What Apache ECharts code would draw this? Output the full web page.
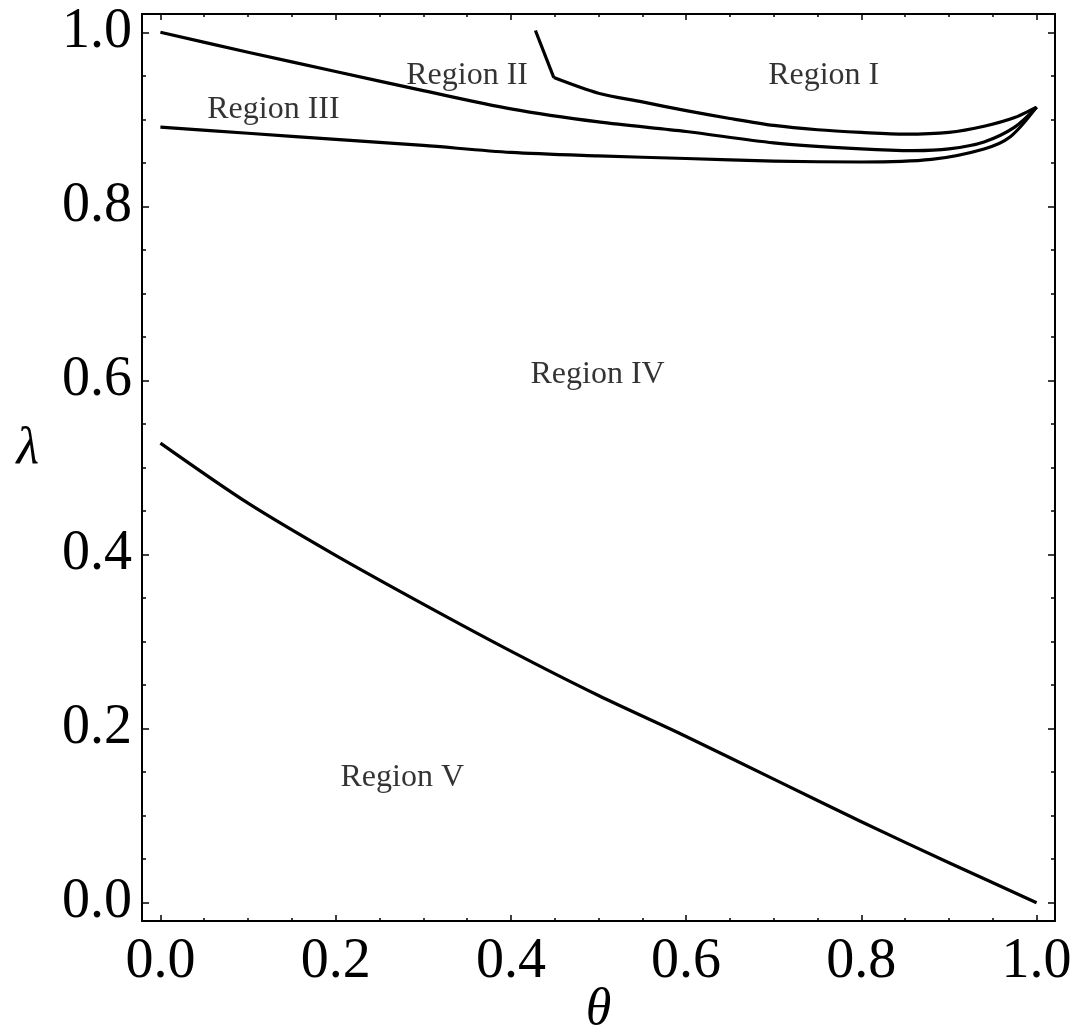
<!DOCTYPE html>
<html>
<head>
<meta charset="utf-8">
<script src="https://cdn.jsdelivr.net/npm/echarts@6/dist/echarts.min.js"></script>
<style>
  html, body { margin: 0; padding: 0; background: #fff; }
  #chart { width: 1076px; height: 1034px; }
</style>
</head>
<body>
<div id="chart"></div>
<script>
// tick positions (both axes share them)
const majorTicks = [0, 0.2, 0.4, 0.6, 0.8, 1.0];
const minorTicks = [0.05, 0.1, 0.15, 0.25, 0.3, 0.35, 0.45, 0.5, 0.55,
                    0.65, 0.7, 0.75, 0.85, 0.9, 0.95];

// boundary between region I and II (kink at the second point)
const curveI_theta  = [0.428, 0.449, 0.5, 0.55, 0.6, 0.65, 0.7, 0.75, 0.8, 0.85, 0.9, 0.94, 0.975, 1.0];
const curveI_lambda = [1.002, 0.948, 0.930, 0.920, 0.910, 0.901, 0.893, 0.888, 0.885, 0.883, 0.885, 0.892, 0.902, 0.914];

// boundary between region II and III
const curveII_theta  = [0, 0.1, 0.2, 0.3, 0.4, 0.5, 0.6, 0.7, 0.8, 0.86, 0.9, 0.94, 0.975, 1.0];
const curveII_lambda = [1.0, 0.977, 0.955, 0.933, 0.912, 0.897, 0.886, 0.873, 0.866, 0.864, 0.866, 0.874, 0.891, 0.914];

// boundary between region III and IV
const curveIII_theta  = [0, 0.1, 0.2, 0.3, 0.4, 0.5, 0.6, 0.7, 0.8, 0.88, 0.94, 0.97, 1.0];
const curveIII_lambda = [0.891, 0.884, 0.877, 0.870, 0.862, 0.858, 0.855, 0.852, 0.851, 0.854, 0.866, 0.880, 0.914];

// boundary between region IV and V
const curveIV_theta  = [0, 0.1, 0.2, 0.3, 0.4, 0.5, 0.6, 0.7, 0.8, 0.9, 1.0];
const curveIV_lambda = [0.528, 0.459, 0.399, 0.343, 0.289, 0.238, 0.191, 0.142, 0.093, 0.046, 0.0];

// region labels
const regionNames  = ['Region I', 'Region II', 'Region III', 'Region IV', 'Region V'];
const regionTheta  = [0.757, 0.350, 0.129, 0.499, 0.276];
const regionLambda = [0.950, 0.950, 0.911, 0.607, 0.144];

const FONT = '"Liberation Serif", "DejaVu Serif", serif';
const AX_MIN = -0.021, AX_MAX = 1.021;

function zip(xs, ys) {
  return xs.map(function (x, i) { return [x, ys[i]]; });
}

function makeAxis(gridIndex, position, ticks, tickLen, withLabel, extra) {
  return Object.assign({
    type: 'value',
    gridIndex: gridIndex,
    position: position,
    min: AX_MIN,
    max: AX_MAX,
    axisLine: { show: withLabel !== null, onZero: false, lineStyle: { color: '#000', width: 2 } },
    axisTick: { show: true, inside: true, length: tickLen, customValues: ticks,
                lineStyle: { color: '#000', width: 1.5 } },
    axisLabel: {
      show: !!withLabel,
      customValues: majorTicks,
      formatter: function (v) { return v.toFixed(1); },
      fontFamily: FONT,
      fontSize: 56,
      color: '#000',
      margin: withLabel ? withLabel.margin : 8
    },
    splitLine: { show: false }
  }, extra || {});
}

const gridBox = { left: 142, top: 14, width: 913, height: 907, outerBoundsMode: 'none', containLabel: false };

const chart = echarts.init(document.getElementById('chart'));

function lineSeries(points, smooth) {
  return {
    type: 'line',
    xAxisIndex: 0,
    yAxisIndex: 0,
    data: points,
    showSymbol: false,
    smooth: smooth,
    lineStyle: { color: '#000', width: 3.2, join: 'miter' },
    animation: false
  };
}

const curveI = zip(curveI_theta, curveI_lambda);

chart.setOption({
  backgroundColor: '#fff',
  animation: false,
  grid: [
    Object.assign({}, gridBox),
    Object.assign({}, gridBox)
  ],
  xAxis: [
    makeAxis(0, 'bottom', majorTicks, 6, { margin: 13 }, {
      name: 'θ',
      nameLocation: 'middle',
      nameGap: 63,
      nameMoveOverlap: false,
      nameTextStyle: { fontFamily: FONT, fontStyle: 'italic', fontSize: 52, color: '#000' }
    }),
    makeAxis(0, 'top', majorTicks, 6, false),
    makeAxis(1, 'bottom', minorTicks, 3, null),
    makeAxis(1, 'top', minorTicks, 3, null)
  ],
  yAxis: [
    makeAxis(0, 'left', majorTicks, 7, { margin: 10 }, {
      name: 'λ',
      nameLocation: 'middle',
      nameRotate: 0,
      nameGap: 103,
      nameMoveOverlap: false,
      nameTextStyle: { fontFamily: FONT, fontStyle: 'italic', fontSize: 52, color: '#000',
                       verticalAlign: 'bottom', lineHeight: 36 }
    }),
    makeAxis(0, 'right', majorTicks, 7, false),
    makeAxis(1, 'left', minorTicks, 4, null),
    makeAxis(1, 'right', minorTicks, 4, null)
  ],
  series: [
    lineSeries(curveI.slice(0, 2), false),
    lineSeries(curveI.slice(1), 0.3),
    lineSeries(zip(curveII_theta, curveII_lambda), 0.3),
    lineSeries(zip(curveIII_theta, curveIII_lambda), 0.3),
    lineSeries(zip(curveIV_theta, curveIV_lambda), 0.3),
    {
      type: 'scatter',
      xAxisIndex: 0,
      yAxisIndex: 0,
      symbolSize: 0,
      data: regionNames.map(function (n, i) {
        return { name: n, value: [regionTheta[i], regionLambda[i]] };
      }),
      label: {
        show: true,
        position: 'inside',
        formatter: '{b}',
        fontFamily: FONT,
        fontSize: 32,
        color: '#000',
        textBorderWidth: 0,
        textBorderColor: 'transparent'
      },
      animation: false
    }
  ]
});
</script>
</body>
</html>
